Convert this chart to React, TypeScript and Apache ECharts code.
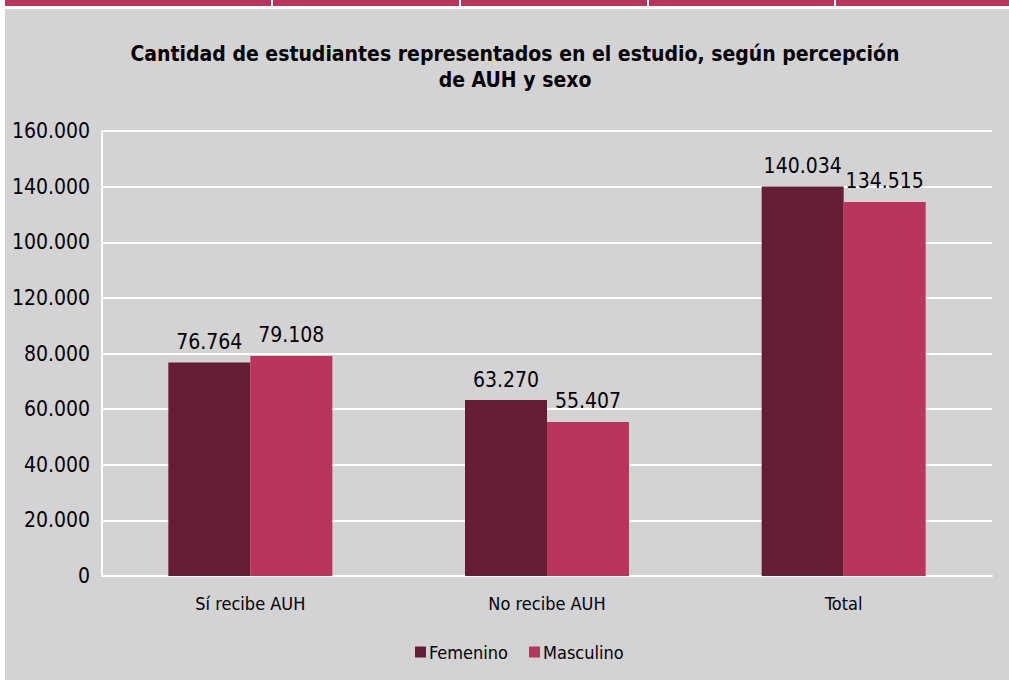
import React, { useEffect, useRef } from "react";
import * as echarts from "echarts";

const categories = ["Sí recibe AUH", "No recibe AUH", "Total"];
const femenino = [76764, 63270, 140034];
const masculino = [79108, 55407, 134515];
const femeninoLabels = ["76.764", "63.270", "140.034"];
const masculinoLabels = ["79.108", "55.407", "134.515"];
const yTickLabels = ["0", "20.000", "40.000", "60.000", "80.000", "120.000", "100.000", "140.000", "160.000"];
const titleText = "Cantidad de estudiantes representados en el estudio, según percepción\nde AUH y sexo";

const FONT = "'Liberation Sans Narrow', 'Arial Narrow', 'DejaVu Sans Condensed', sans-serif";
const DARK = "#641d35";
const PINK = "#b9355e";
const GRAY = "#d3d3d3";

export default function App() {
  const ref = useRef<HTMLDivElement>(null);
  useEffect(() => {
    if (!ref.current) return;
    const chart = echarts.init(ref.current, null, { renderer: "svg" });
    const sepXs = [271, 459, 647, 834];
    chart.setOption({
      animation: false,
      backgroundColor: "#ffffff",
      textStyle: { fontFamily: FONT },
      graphic: [
        { type: "rect", z: -10, shape: { x: 5, y: 0, width: 1004, height: 6 }, style: { fill: PINK } },
        ...sepXs.map((x) => ({ type: "rect", z: -9, shape: { x, y: 0, width: 2, height: 6 }, style: { fill: "#ffffff" } })),
        { type: "rect", z: -10, shape: { x: 5, y: 9, width: 1004, height: 671 }, style: { fill: GRAY } },
      ],
      title: {
        text: titleText,
        left: 510,
        top: 36,
        textAlign: "center",
        textStyle: { fontFamily: FONT, fontWeight: "bold", fontSize: 21, color: "#000", lineHeight: 26 },
      },
      legend: {
        data: ["Femenino", "Masculino"],
        bottom: 14,
        left: 410,
        itemWidth: 11,
        itemHeight: 11,
        itemGap: 21,
        icon: "rect",
        textStyle: { fontFamily: FONT, fontSize: 18, color: "#000", padding: [0, 0, 0, -2] },
      },
      grid: { left: 102, right: 17, top: 131, bottom: 104, containLabel: false },
      xAxis: {
        type: "category",
        data: categories,
        axisLine: { show: true, lineStyle: { color: "#ffffff", width: 2 } },
        axisTick: { show: false },
        axisLabel: { fontFamily: FONT, fontSize: 18, color: "#000", margin: 18 },
      },
      yAxis: {
        type: "value",
        min: 0,
        max: 160000,
        interval: 20000,
        axisLine: { show: true, lineStyle: { color: "#ffffff", width: 2 } },
        axisTick: { show: false },
        splitLine: { show: true, lineStyle: { color: "#ffffff", width: 2 } },
        axisLabel: {
          fontFamily: FONT,
          fontSize: 21,
          color: "#000",
          margin: 12,
          formatter: (v: number) => yTickLabels[Math.round(v / 20000)] ?? "",
        },
      },
      series: [
        {
          name: "Femenino",
          type: "bar",
          data: femenino,
          barWidth: 82,
          barGap: "0%",
          itemStyle: { color: DARK },
          label: {
            show: true,
            position: "top",
            distance: 10,
            fontFamily: FONT,
            fontSize: 21,
            color: "#000",
            formatter: (p: any) => femeninoLabels[p.dataIndex],
          },
        },
        {
          name: "Masculino",
          type: "bar",
          data: masculino,
          barWidth: 82,
          barGap: "0%",
          itemStyle: { color: PINK },
          label: {
            show: true,
            position: "top",
            distance: 10,
            fontFamily: FONT,
            fontSize: 21,
            color: "#000",
            formatter: (p: any) => masculinoLabels[p.dataIndex],
          },
        },
      ],
    });
    return () => chart.dispose();
  }, []);
  return (
    <div
      ref={ref}
      style={{ position: "fixed", left: 0, top: 0, width: 1009, height: 680 }}
    />
  );
}
